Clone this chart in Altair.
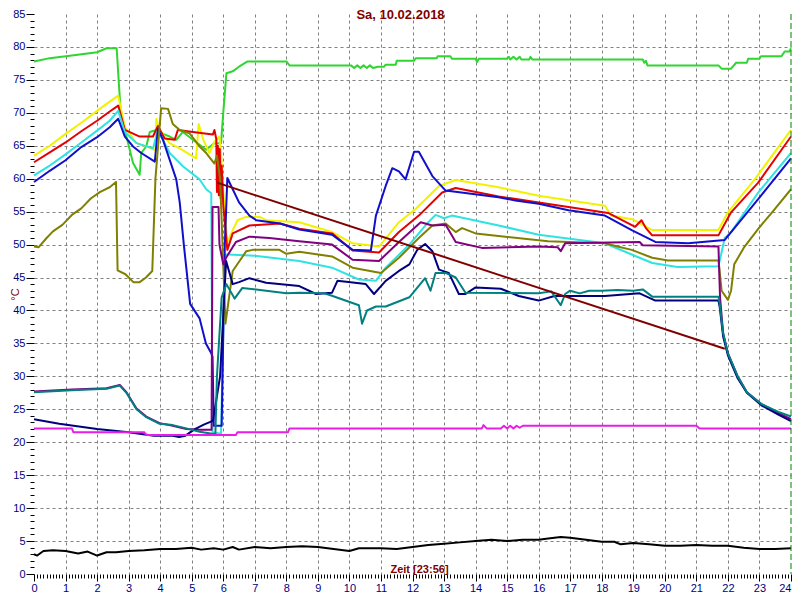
import altair as alt
import pandas as pd

# ---------------- data (hours, °C) ----------------
green_h = [0, 0.5, 1.2, 2.0, 2.3, 2.62, 2.75, 2.93, 3.14, 3.35, 3.4, 3.56, 3.67, 3.88, 4.09, 4.3, 4.51, 4.72, 5.04, 5.46, 5.72, 5.93, 6.0, 6.1, 6.3, 6.5, 6.77, 8.0, 8.1, 10.05, 10.15, 10.25, 10.35, 10.45, 10.55, 10.65, 10.75, 10.9, 11.1, 11.15, 11.47, 11.5, 12.05, 12.1, 12.77, 12.8, 13.2, 13.25, 14.0, 14.05, 14.1, 14.99, 15.05, 15.1, 15.2, 15.3, 15.4, 15.45, 15.7, 15.74, 15.8, 19.3, 19.35, 19.4, 19.45, 21.7, 21.8, 22.1, 22.26, 22.6, 22.64, 23.0, 23.05, 23.7, 23.8, 23.95, 24.0]
green_v = [77.8, 78.3, 78.7, 79.2, 79.8, 79.8, 70.0, 66.4, 62.4, 60.6, 63.9, 64.9, 67.1, 67.4, 66.8, 66.4, 65.9, 67.1, 65.9, 64.4, 65.4, 65.4, 70.0, 76.0, 76.3, 77.0, 77.8, 77.8, 77.2, 77.2, 76.8, 77.2, 76.8, 77.2, 76.8, 77.2, 76.8, 77.0, 77.0, 77.3, 77.3, 77.9, 77.9, 78.3, 78.3, 78.6, 78.6, 78.2, 78.2, 77.7, 78.2, 78.2, 78.5, 78.1, 78.5, 78.1, 78.5, 78.1, 78.1, 78.5, 78.1, 78.1, 77.6, 77.9, 77.2, 77.2, 76.7, 76.7, 77.6, 77.6, 78.2, 78.2, 78.6, 78.6, 79.3, 79.3, 79.8]

yellow_h = [0, 0.5, 1.0, 1.5, 2.0, 2.4, 2.67, 2.88, 3.25, 3.72, 3.85, 3.88, 3.98, 4.3, 4.62, 5.14, 5.22, 5.37, 5.56, 5.72, 5.88, 5.93, 6.0, 6.13, 6.45, 6.72, 7.15, 7.36, 8.41, 9.45, 10.1, 10.94, 11.57, 12.1, 12.84, 13.37, 14.73, 16.0, 18.1, 18.3, 19.0, 19.6, 21.7, 22.0, 22.85, 24.0]
yellow_v = [63.5, 65.0, 66.8, 68.5, 70.3, 71.7, 72.6, 67.8, 65.4, 64.6, 64.3, 69.1, 67.4, 65.4, 64.6, 63.1, 68.3, 65.9, 63.9, 65.6, 66.4, 63.9, 58.0, 50.4, 53.7, 54.2, 54.2, 53.7, 53.4, 51.9, 50.2, 49.7, 53.4, 55.4, 58.9, 59.8, 58.7, 57.4, 55.9, 54.4, 53.8, 52.2, 52.2, 54.9, 59.9, 67.4]

red_h = [0, 0.5, 1.0, 1.5, 2.0, 2.4, 2.67, 2.88, 3.35, 3.77, 3.93, 4.14, 4.46, 4.56, 5.04, 5.67, 5.72, 5.78, 5.8, 5.83, 5.86, 5.89, 5.92, 5.95, 6.0, 6.13, 6.3, 6.83, 7.8, 8.41, 9.45, 10.1, 10.94, 11.57, 12.2, 12.94, 13.37, 14.73, 16.0, 18.2, 19.06, 19.26, 19.4, 19.6, 21.7, 22.1, 22.96, 24.0]
red_v = [62.5, 64.0, 65.5, 67.2, 68.8, 70.2, 71.1, 67.4, 66.4, 66.4, 68.0, 66.1, 65.9, 67.4, 67.1, 66.7, 67.4, 66.0, 58.0, 65.0, 57.5, 64.5, 57.0, 62.0, 56.0, 49.2, 51.7, 52.9, 53.2, 52.4, 51.7, 49.1, 48.8, 51.9, 54.4, 57.9, 58.6, 57.3, 56.4, 54.8, 52.7, 53.7, 52.5, 51.4, 51.4, 54.9, 59.4, 66.4]

cyan_h = [0, 0.5, 1.0, 1.5, 2.0, 2.4, 2.67, 2.88, 3.25, 3.77, 3.93, 4.3, 4.72, 5.25, 5.46, 5.62, 5.66, 5.93, 6.05, 6.15, 7.0, 8.41, 9.45, 10.3, 10.84, 11.15, 11.9, 12.5, 12.73, 13.0, 13.25, 14.73, 16.0, 18.1, 18.95, 19.6, 20.4, 21.7, 21.9, 22.1, 22.96, 24.0]
cyan_v = [60.5, 62.0, 63.7, 65.5, 67.3, 68.8, 70.3, 67.1, 65.4, 64.6, 67.4, 63.9, 61.9, 59.9, 58.4, 57.8, 21.5, 21.3, 48.5, 48.5, 48.3, 47.5, 46.5, 44.7, 44.5, 46.5, 50.0, 53.4, 54.5, 54.0, 54.4, 52.9, 51.5, 50.2, 48.5, 47.2, 46.6, 46.7, 51.0, 51.9, 57.9, 63.9]

blue_h = [0, 0.5, 1.0, 1.5, 2.0, 2.4, 2.67, 2.88, 3.14, 3.4, 3.83, 3.93, 4.09, 4.3, 4.51, 4.62, 4.75, 4.95, 5.25, 5.45, 5.62, 5.66, 5.7, 5.95, 6.05, 6.13, 6.5, 6.83, 7.05, 7.8, 8.41, 9.45, 10.1, 10.68, 10.84, 11.15, 11.36, 11.57, 11.78, 12.05, 12.2, 12.63, 13.05, 14.73, 15.26, 16.0, 16.95, 18.1, 18.95, 19.7, 20.74, 21.9, 22.96, 24.0]
blue_v = [59.5, 61.2, 62.8, 64.8, 66.3, 67.8, 69.1, 66.4, 64.9, 63.9, 62.6, 67.6, 65.9, 62.9, 59.9, 56.4, 50.0, 41.0, 38.8, 35.0, 33.5, 33.0, 22.5, 22.5, 50.0, 60.1, 56.4, 54.4, 53.7, 53.2, 52.3, 51.5, 49.2, 49.1, 54.4, 58.9, 61.6, 61.1, 59.9, 64.1, 64.1, 60.4, 58.2, 57.2, 56.7, 56.2, 55.2, 54.4, 52.2, 50.4, 50.2, 50.7, 56.9, 63.1]

olive_h = [0, 0.15, 0.4, 0.6, 0.9, 1.2, 1.5, 1.8, 2.1, 2.4, 2.6, 2.65, 2.9, 3.15, 3.35, 3.55, 3.75, 3.85, 4.03, 4.25, 4.4, 4.62, 4.93, 5.25, 5.46, 5.72, 5.8, 5.9, 6.07, 6.3, 6.73, 6.93, 7.78, 8.0, 8.41, 9.45, 10.1, 11.0, 11.57, 12.2, 12.63, 13.05, 13.37, 13.57, 14.0, 16.3, 18.1, 18.5, 18.95, 19.6, 20.1, 21.7, 21.8, 22.0, 22.1, 22.2, 22.5, 22.96, 23.4, 24.0]
olive_v = [49.7, 49.6, 51.0, 52.0, 53.0, 54.5, 55.5, 57.0, 58.0, 58.7, 59.5, 46.1, 45.5, 44.3, 44.3, 45.0, 46.0, 60.0, 70.7, 70.6, 68.3, 67.4, 66.9, 64.9, 63.9, 62.3, 63.5, 60.0, 38.0, 46.0, 49.0, 49.2, 49.2, 48.6, 48.9, 48.2, 46.5, 45.7, 48.0, 51.0, 52.9, 53.2, 51.9, 52.5, 51.7, 50.5, 50.2, 49.7, 49.2, 48.0, 47.6, 47.6, 43.0, 41.6, 43.0, 47.0, 49.5, 52.4, 54.9, 58.4]

purple_h = [0, 1.2, 2.3, 2.72, 2.93, 3.25, 3.56, 3.98, 4.4, 4.83, 5.25, 5.63, 5.66, 5.85, 5.88, 6.0, 6.09, 6.4, 6.83, 7.46, 8.41, 9.45, 10.1, 10.94, 11.57, 12.26, 12.63, 13.05, 13.37, 14.2, 16.0, 16.6, 16.7, 16.84, 19.2, 19.3, 21.7, 21.75, 21.85, 22.0, 22.3, 22.6, 23.06, 23.6, 24.0]
purple_v = [27.7, 28.0, 28.2, 28.7, 27.6, 25.1, 23.9, 22.9, 22.5, 22.0, 21.9, 21.9, 55.7, 55.7, 50.0, 47.0, 48.0, 50.4, 51.2, 51.0, 50.5, 50.0, 47.7, 47.5, 50.4, 53.4, 52.9, 53.0, 50.4, 49.5, 49.7, 49.6, 49.0, 50.2, 50.4, 49.9, 49.7, 42.0, 36.5, 33.5, 30.1, 27.6, 25.8, 24.4, 23.5]

teal_h = [0, 1.2, 2.3, 2.72, 2.93, 3.25, 3.56, 3.98, 4.4, 4.83, 5.25, 5.75, 5.8, 5.95, 6.1, 6.36, 6.6, 7.04, 8.0, 8.41, 9.2, 9.4, 10.3, 10.4, 10.56, 10.84, 11.15, 11.9, 12.4, 12.57, 12.73, 13.05, 13.37, 13.68, 16.0, 16.4, 16.7, 16.84, 17.0, 17.3, 17.6, 18.0, 18.5, 19.0, 19.3, 19.6, 21.7, 21.74, 21.85, 22.0, 22.3, 22.6, 23.06, 23.6, 24.0]
teal_v = [27.6, 27.9, 28.1, 28.6, 27.5, 25.0, 23.8, 22.8, 22.6, 22.1, 21.6, 21.2, 30.0, 42.0, 44.0, 41.8, 43.4, 43.2, 42.6, 42.7, 42.6, 42.3, 40.8, 38.0, 40.0, 40.6, 40.6, 42.0, 44.9, 43.0, 45.7, 45.7, 45.0, 42.7, 42.6, 42.9, 40.8, 42.5, 43.0, 42.6, 43.0, 43.0, 43.1, 43.0, 43.2, 42.1, 42.1, 41.0, 36.5, 33.5, 30.1, 27.6, 25.8, 24.6, 23.9]

navy_h = [0, 0.8, 2.0, 3.0, 3.8, 4.4, 4.6, 4.8, 5.1, 5.4, 5.65, 5.68, 5.9, 6.09, 6.3, 6.5, 6.83, 7.36, 8.41, 8.94, 9.45, 9.62, 10.52, 10.78, 11.15, 11.57, 11.9, 12.15, 12.4, 12.63, 12.84, 13.15, 13.47, 13.68, 14.0, 14.8, 15.37, 16.0, 16.5, 18.1, 19.2, 19.7, 21.7, 21.74, 21.85, 22.0, 22.3, 22.6, 23.06, 23.6, 24.0]
navy_v = [23.5, 22.8, 22.0, 21.5, 21.0, 21.0, 20.8, 21.0, 22.0, 22.7, 23.2, 23.4, 30.0, 47.5, 44.0, 44.3, 44.9, 44.2, 43.7, 42.5, 42.7, 44.5, 44.0, 42.5, 44.5, 46.0, 47.0, 49.2, 50.1, 49.0, 46.2, 45.7, 42.5, 42.5, 43.5, 43.3, 42.2, 41.5, 42.2, 42.2, 42.6, 41.5, 41.5, 40.5, 36.0, 33.2, 29.8, 27.5, 25.6, 24.2, 23.2]

magenta_h = [0, 1.2, 1.25, 3.5, 3.55, 6.4, 6.45, 8.05, 8.1, 14.2, 14.25, 14.35, 14.8, 14.9, 15.0, 15.1, 15.2, 15.3, 15.4, 15.5, 21.0, 21.1, 24.0]
magenta_v = [22.1, 22.1, 21.5, 21.5, 21.1, 21.1, 21.5, 21.5, 22.1, 22.1, 22.6, 22.1, 22.1, 22.5, 22.1, 22.5, 22.1, 22.5, 22.2, 22.5, 22.5, 22.1, 22.1]

black_h = [0, 0.1, 0.3, 0.6, 1.0, 1.4, 1.7, 2.0, 2.3, 2.6, 3.0, 3.5, 4.0, 4.5, 5.0, 5.3, 5.7, 6.0, 6.3, 6.5, 7.0, 7.5, 8.0, 8.5, 9.0, 9.5, 10.0, 10.3, 11.0, 11.5, 12.0, 12.5, 13.0, 13.5, 14.0, 14.5, 15.0, 15.5, 16.0, 16.3, 16.7, 17.0, 17.5, 18.0, 18.4, 18.6, 19.0, 19.5, 20.0, 20.5, 21.0, 21.5, 22.0, 22.5, 23.0, 23.5, 24.0]
black_v = [3.0, 2.8, 3.5, 3.6, 3.5, 3.1, 3.4, 2.8, 3.3, 3.3, 3.5, 3.6, 3.8, 3.8, 4.0, 3.7, 3.9, 3.7, 4.1, 3.7, 4.1, 3.9, 4.1, 4.2, 4.1, 3.8, 3.5, 3.9, 3.9, 3.8, 4.1, 4.4, 4.6, 4.8, 5.0, 5.2, 5.0, 5.2, 5.2, 5.4, 5.6, 5.5, 5.2, 4.9, 4.9, 4.5, 4.7, 4.5, 4.3, 4.3, 4.4, 4.3, 4.3, 4.0, 3.8, 3.8, 3.9]

maroon_h = [5.8, 21.9]
maroon_v = [59.4, 34.2]

end_hour = [24]

series_names = ["green", "yellow", "red", "cyan", "blue", "olive", "purple",
                "navy", "teal", "magenta", "black", "maroon"]
series_colors = ["#2fd62f", "#f2f200", "#e60000", "#2fe3e3", "#1010cc", "#808000",
                 "#800080", "#000080", "#008080", "#e61ee6", "#000000", "#800000"]
series_h = [green_h, yellow_h, red_h, cyan_h, blue_h, olive_h, purple_h,
            navy_h, teal_h, magenta_h, black_h, maroon_h]
series_v = [green_v, yellow_v, red_v, cyan_v, blue_v, olive_v, purple_v,
            navy_v, teal_v, magenta_v, black_v, maroon_v]

rows = []
for name, hs, vs in zip(series_names, series_h, series_v):
    for i, (h, v) in enumerate(zip(hs, vs)):
        rows.append({"s": name, "h": h, "v": v, "i": i})
df = pd.DataFrame(rows)

x_ticks = [round(i * 0.1, 1) for i in range(241)]
y_ticks = list(range(0, 86))

x_scale = alt.Scale(domain=[0, 24], nice=False, zero=False)
y_scale = alt.Scale(domain=[0, 85], nice=False, zero=False)

x_axis = alt.Axis(
    values=x_ticks,
    labelExpr="datum.value % 1 == 0 ? format(datum.value, 'd') : ''",
    labelOverlap=False, labelFlush=False,
    labelAlign={"condition": {"test": "datum.value >= 24", "value": "right"}, "value": "center"},
    tickSize={"condition": {"test": "datum.value % 1 == 0", "value": 7}, "value": 4},
    tickColor="#000000", tickWidth=1,
    labelPadding=1, labelFontSize=11, labelColor="#000080", labelFont="Liberation Sans",
    domain=False,
    grid=True, gridColor="#808080", gridDash=[3, 3], gridWidth=1,
    gridOpacity={"condition": {"test": "datum.value % 1 == 0 && datum.value > 0 && datum.value < 24", "value": 1}, "value": 0},
    title="Zeit [23:56]", titleColor="#800000", titleFont="Liberation Sans",
    titleFontSize=11, titleFontWeight="bold", titleX=385, titleY=-2,
    titleAlign="center", titleBaseline="alphabetic",
)
y_axis = alt.Axis(
    values=y_ticks,
    labelExpr="datum.value % 5 == 0 ? format(datum.value, 'd') : ''",
    labelOverlap=False, labelFlush=False,
    tickSize={"condition": {"test": "datum.value % 5 == 0", "value": 8}, "value": 4},
    tickColor="#000000", tickWidth=1,
    labelPadding=1, labelFontSize=11, labelColor="#000080", labelFont="Liberation Sans",
    domain=False,
    grid=True, gridColor="#808080", gridDash=[3, 3], gridWidth=1,
    gridOpacity={"condition": {"test": "datum.value % 5 == 0 && datum.value > 0 && datum.value < 85", "value": 1}, "value": 0},
    title="°C", titleColor="#800000", titleFont="Liberation Sans",
    titleFontSize=11, titleFontWeight="normal", titleAngle=270,
    titleX=-16, titleAlign="center", titleBaseline="alphabetic",
)

lines = alt.Chart(df).mark_line(strokeWidth=2, strokeJoin="round").encode(
    x=alt.X("h:Q", scale=x_scale, axis=x_axis),
    y=alt.Y("v:Q", scale=y_scale, axis=y_axis),
    color=alt.Color("s:N", scale=alt.Scale(domain=series_names, range=series_colors), legend=None),
    order=alt.Order("i:Q"),
)

end_rule = alt.Chart(pd.DataFrame({"h": end_hour})).mark_rule(
    color="#008000", strokeDash=[6, 3], strokeWidth=1
).encode(x=alt.X("h:Q", scale=x_scale, axis=x_axis))

chart = alt.layer(lines, end_rule).properties(
    width=757, height=560,
    padding={"left": 26, "top": 6, "right": 1, "bottom": 18},
    autosize=alt.AutoSizeParams(type="none"),
    title=alt.TitleParams(
        text="Sa, 10.02.2018", anchor="middle", frame="group", offset=-14, dx=-12,
        fontSize=13, fontWeight="bold", color="#800000", font="Liberation Sans",
    ),
    background="#ffffff",
).configure_view(stroke=None)

chart.save("out.html", embed_options={"renderer": "svg", "actions": False})
